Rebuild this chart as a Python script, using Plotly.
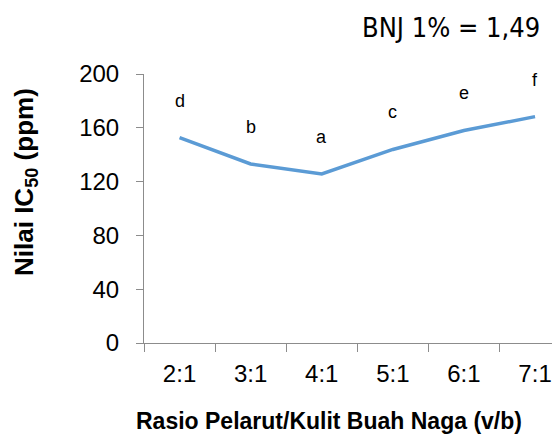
import plotly.graph_objects as go

categories = ["2:1", "3:1", "4:1", "5:1", "6:1", "7:1"]
ic50_values = [152.7, 133.1, 125.7, 143.9, 158.0, 168.3]
letters = ["d", "b", "a", "c", "e", "f"]
y_ticks = [0, 40, 80, 120, 160, 200]
bnj_text = "BNJ 1% = 1,49"

# page body has an 8px margin; positions below are in screenshot pixels
OFF = 8
W, H = 560, 435
ML, MR, MT, MB = 144 - OFF, 0, 74 - OFF, H - (343 - OFF)
PW, PH = W - ML - MR, H - MT - MB
CAT_PX = 71.1
x_hi = -0.5 + PW / CAT_PX

def px_x(px):
    return (px - OFF - ML) / PW

def px_y(py):
    return (H - MB - (py - OFF)) / PH

axis_col = "#8c8c8c"
fig = go.Figure()
fig.add_trace(go.Scatter(
    x=categories, y=ic50_values, mode="lines",
    line=dict(color="#5b9bd5", width=3.5), hoverinfo="skip", showlegend=False,
))

for c, v, t in zip(categories, ic50_values, letters):
    fig.add_annotation(x=c, y=v, text=t, showarrow=False, xanchor="center",
                       yanchor="bottom", yshift=25,
                       font=dict(family="Liberation Sans, Arial", size=18, color="#000"))

fig.add_annotation(xref="paper", yref="paper", x=px_x(542), y=px_y(28),
                   xanchor="right", yanchor="middle", showarrow=False, text=bnj_text,
                   font=dict(family="DejaVu Sans Condensed, DejaVu Sans", size=27, color="#000"))

fig.add_annotation(xref="paper", yref="paper", x=px_x(25), y=px_y(182),
                   xanchor="center", yanchor="middle", showarrow=False, textangle=-90,
                   text="<b>Nilai IC<sub>50</sub> (ppm)</b>",
                   font=dict(family="Liberation Sans, Arial", size=26, color="#000"))

fig.add_annotation(xref="paper", yref="paper", x=px_x(328.5), y=px_y(421),
                   xanchor="center", yanchor="middle", showarrow=False,
                   text="<b>Rasio Pelarut/Kulit Buah Naga (v/b)</b>",
                   font=dict(family="Liberation Sans, Arial", size=23, color="#000"))

fig.update_layout(
    width=W, height=H,
    margin=dict(l=ML, r=MR, t=MT, b=MB, pad=0),
    paper_bgcolor="white", plot_bgcolor="white",
    showlegend=False,
    font=dict(family="Liberation Sans, Arial", color="#000"),
    xaxis=dict(
        type="category", range=[-0.5, x_hi], tickson="boundaries",
        showline=True, linecolor=axis_col, linewidth=1,
        ticks="outside", ticklen=8, tickcolor=axis_col, tickwidth=1,
        tickfont=dict(size=24, color="#000"), showgrid=False, zeroline=False,
        ticklabelstandoff=9,
    ),
    yaxis=dict(
        range=[0, 200], tickvals=y_ticks, ticktext=[str(v) for v in y_ticks],
        showline=True, linecolor=axis_col, linewidth=1,
        ticks="outside", ticklen=7, tickcolor=axis_col, tickwidth=1,
        tickfont=dict(size=24, color="#000"), showgrid=False, zeroline=False,
        ticklabelstandoff=12,
    ),
)

fig.write_html("out.html")
